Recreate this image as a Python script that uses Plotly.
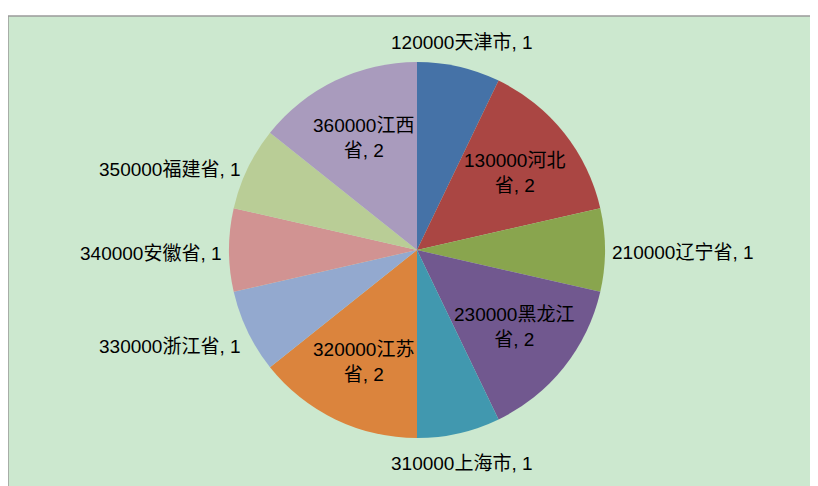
import math
import plotly.graph_objects as go

names = ["120000天津市", "130000河北省", "210000辽宁省", "230000黑龙江省", "310000上海市",
         "320000江苏省", "330000浙江省", "340000安徽省", "350000福建省", "360000江西省"]
values = [1, 2, 1, 2, 1, 2, 1, 1, 1, 2]
colors = ["#4572A7", "#AA4643", "#89A54E", "#71588F", "#4198AF",
          "#DB843D", "#93A9CF", "#D19392", "#B9CD96", "#A99BBD"]

# the page places the figure 8px in from the top-left corner
OFF = 8
W, H = 818 - OFF, 486 - OFF
cx, cy, r = 417 - OFF, 250 - OFF, 188
FONT = dict(family="Liberation Sans, Noto Sans CJK SC", size=19, color="#000000")

fig = go.Figure(go.Pie(
    labels=names, values=values, textinfo="none",
    sort=False, direction="clockwise", rotation=0,
    marker=dict(colors=colors, line=dict(width=0)),
    domain=dict(x=[(cx - r) / W, (cx + r) / W], y=[(H - cy - r) / H, (H - cy + r) / H]),
    showlegend=False, hoverinfo="label+value",
))

# data labels placed along each slice's mid-angle
total = sum(values)
annotations = []
acc = 0
for n, v in zip(names, values):
    mid = (acc + v / 2) / total * 2 * math.pi
    acc += v
    s, c = math.sin(mid), math.cos(mid)
    if v >= 2:
        d = 0.66 * r
        px, py = cx + d * s, cy - d * c
        annotations.append(dict(
            x=px / W, y=(H - py) / H, xref="paper", yref="paper",
            text=f"{n[:-1]}<br>{n[-1]}, {v}", showarrow=False,
            xanchor="center", yanchor="middle", align="center", font=FONT,
        ))
        continue
    xa = "left" if s > 0.5 else ("right" if s < -0.5 else "center")
    ya = "bottom" if c > 0.8 else ("top" if c < -0.8 else "middle")
    d = r + (5 if ya == "middle" else 12)
    px, py = cx + d * s, cy - d * c
    ys = {"middle": -3 + 22 * min(c, 0), "bottom": 0, "top": -6}[ya]
    annotations.append(dict(
        x=px / W, y=(H - py) / H, xref="paper", yref="paper",
        text=f"{n}, {v}", showarrow=False, xanchor=xa, yanchor=ya,
        yshift=ys, font=FONT,
    ))

fig.update_layout(
    width=W, height=H, margin=dict(l=0, r=0, t=0, b=0),
    paper_bgcolor="#FFFFFF", plot_bgcolor="#FFFFFF",
    annotations=annotations,
    shapes=[dict(type="rect", xref="paper", yref="paper",
                 x0=0, x1=1.05, y0=-0.05, y1=(H - (16 - OFF)) / H,
                 fillcolor="#CCE8CF", line=dict(color="#9A9A9A", width=1.5), layer="below")],
)

fig.write_html("out.html")
